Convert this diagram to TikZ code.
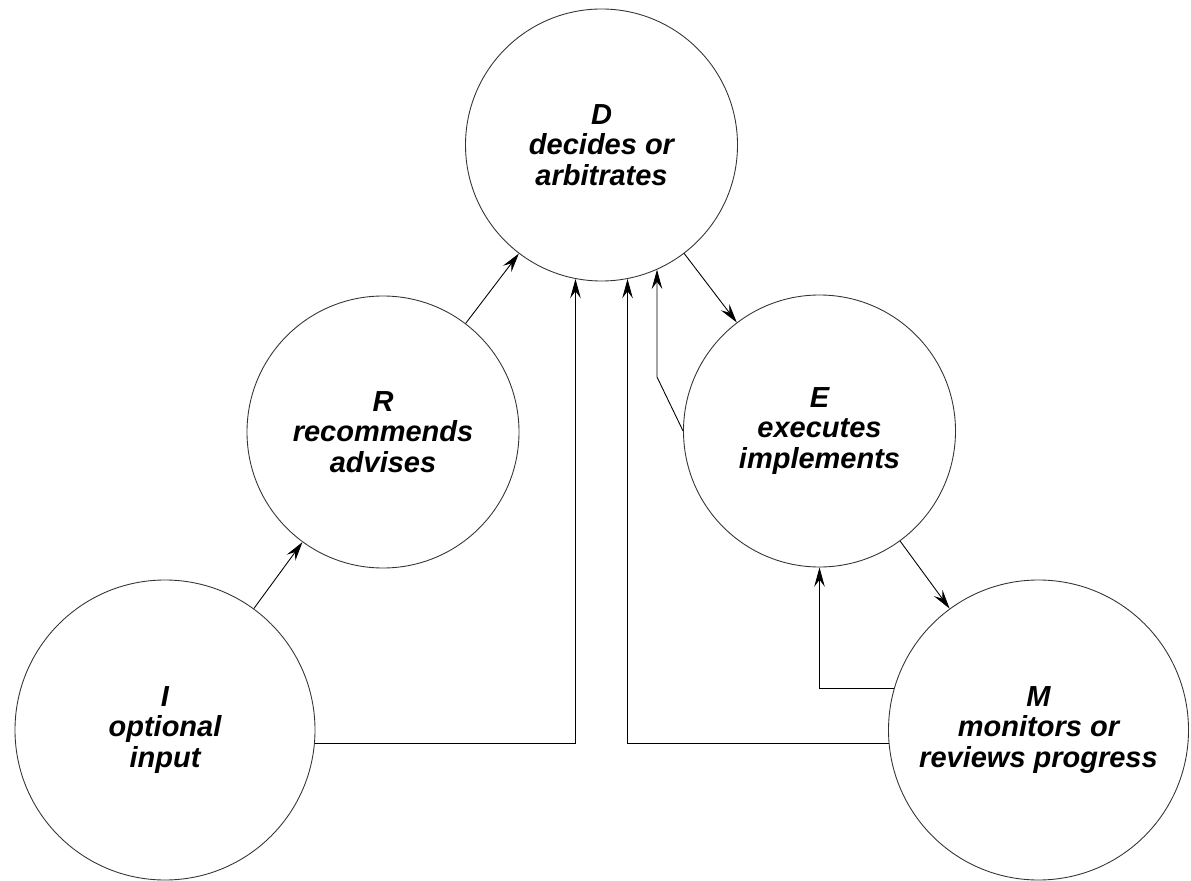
\documentclass[tikz,border=0pt]{standalone}
\usepackage{fontspec}
\setmainfont{Liberation Sans}
\usetikzlibrary{arrows.meta}

\tikzset{
    role/.style={draw=black!80,line width=0.5pt,circle,inner sep=0pt,align=center,
        font=\fontsize{16.5}{17.5}\selectfont\bfseries\itshape},
    link/.style={line width=0.5pt,-{Stealth[length=11pt,width=6pt,inset=4pt]}}
}

\begin{document}
\begin{tikzpicture}
    \useasboundingbox (0,0) rectangle (23.82,17.6);
    \node[role,minimum size=5.44cm] (D) at (12.03,14.70) {D\\decides or\\arbitrates};
    \node[role,minimum size=5.44cm] (R) at (7.66,8.96) {R\\recommends\\advises};
    \node[role,minimum size=5.44cm] (E) at (16.39,8.98) {E\\executes\\implements};
    \node[role,minimum size=6cm] (I) at (3.30,3.00) {I\\optional\\input};
    \node[role,minimum size=6cm] (M) at (20.77,3.00) {M\\monitors or\\reviews progress};
    \coordinate (ebend) at (0,10.06);
    \draw[link] (I) -- (R);
    \draw[link] (R) -- (D);
    \draw[link] (D) -- (E);
    \draw[link] (E) -- (M);
    \draw[link] (I.-5) -| (D.259);
    \draw[link] (M.185) -| (D.281);
    \draw[link] (M.164) -| (E.south);
    \draw[link] (E.west) -- (D.294 |- ebend) -- (D.294);
\end{tikzpicture}
\end{document}
